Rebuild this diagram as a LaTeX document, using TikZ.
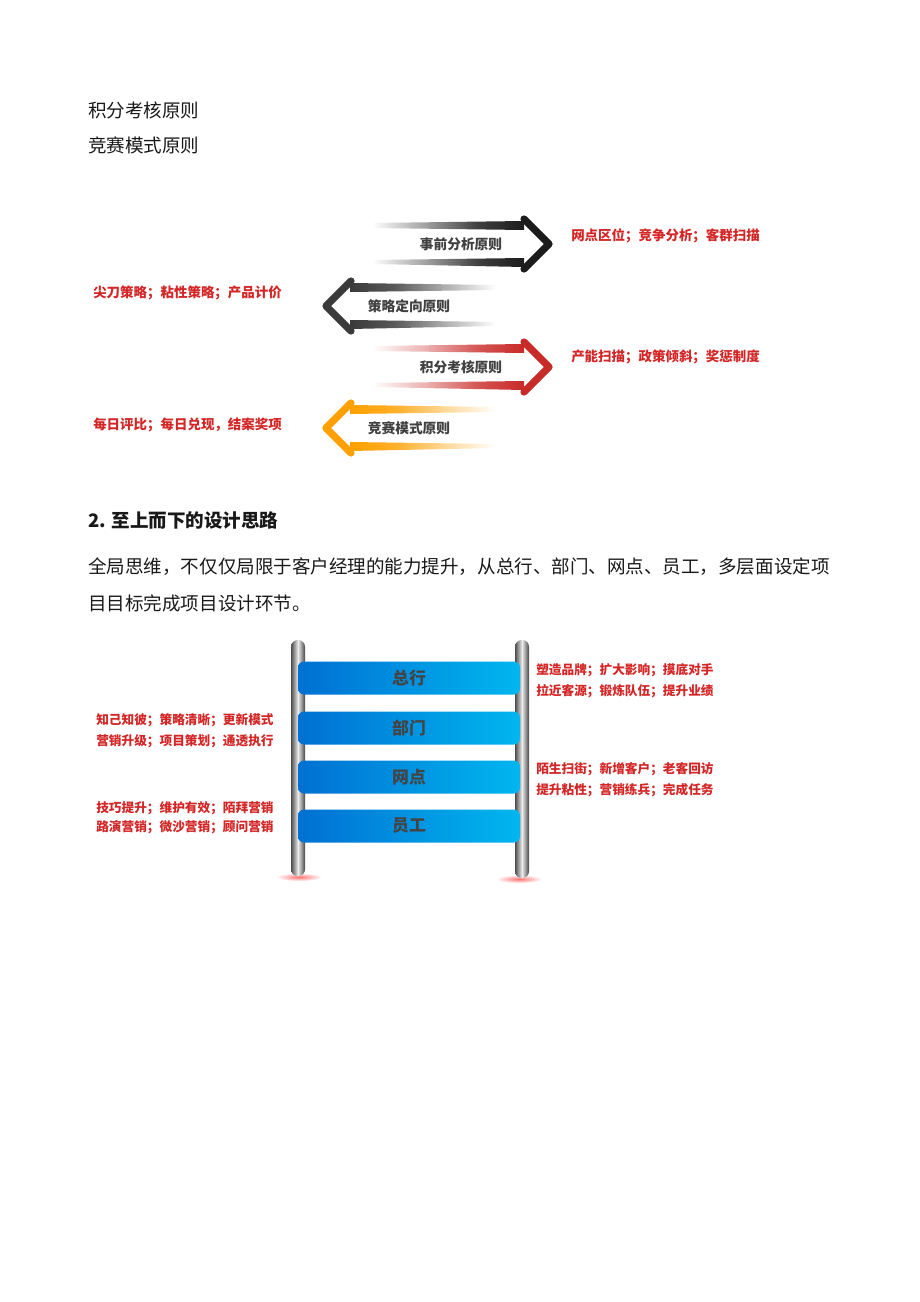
\documentclass[tikz,border=0pt]{standalone}
\usepackage{fontspec}
\setmainfont{Noto Sans CJK SC}
\definecolor{bodyblack}{RGB}{25,25,25}
\definecolor{lblred}{RGB}{212,38,38}
\definecolor{arrgray}{RGB}{64,64,64}
\definecolor{arrA}{RGB}{28,28,28}
\definecolor{arrB}{RGB}{58,58,58}
\definecolor{arrC}{RGB}{200,42,40}
\definecolor{arrD}{RGB}{255,160,0}
\definecolor{rungL}{RGB}{0,112,210}
\definecolor{rungR}{RGB}{0,182,240}
\definecolor{runggray}{RGB}{68,68,68}
\pgfdeclarehorizontalshading{fadeA}{100bp}{color(0bp)=(white); color(25bp)=(white); color(42bp)=(arrA!40); color(60bp)=(arrA!85); color(75bp)=(arrA); color(100bp)=(arrA)}
\pgfdeclarehorizontalshading{fadeB}{100bp}{color(0bp)=(arrB); color(25bp)=(arrB); color(40bp)=(arrB!85); color(58bp)=(arrB!40); color(75bp)=(white); color(100bp)=(white)}
\pgfdeclarehorizontalshading{fadeC}{100bp}{color(0bp)=(white); color(25bp)=(white); color(42bp)=(arrC!35); color(60bp)=(arrC!80); color(75bp)=(arrC); color(100bp)=(arrC)}
\pgfdeclarehorizontalshading{fadeD}{100bp}{color(0bp)=(arrD); color(25bp)=(arrD); color(40bp)=(arrD!85); color(58bp)=(arrD!40); color(75bp)=(white); color(100bp)=(white)}
\newcommand\myRarrow[2]{%
  \shade[shading=fade#2] (372,#1-21)--(524,#1-23)--(524,#1-14)--(372,#1-16)--cycle;
  \shade[shading=fade#2] (372,#1+16)--(524,#1+14)--(524,#1+23)--(372,#1+20)--cycle;
  \draw[line width=5.4pt,line join=round,line cap=round,color=arr#2] (524,#1-25)--(549,#1)--(524,#1+25);}
\newcommand\myLarrow[2]{%
  \shade[shading=fade#2] (350,#1-23)--(496,#1-21)--(496,#1-16)--(350,#1-14)--cycle;
  \shade[shading=fade#2] (350,#1+14)--(496,#1+16)--(496,#1+20)--(350,#1+23)--cycle;
  \draw[line width=5.4pt,line join=round,line cap=round,color=arr#2] (351,#1-25)--(326,#1)--(351,#1+25);}
\begin{document}
\begin{tikzpicture}[x=0.75pt,y=-0.75pt,
  body/.style={anchor=west,inner sep=0pt,font=\fontsize{13.9}{16}\selectfont,text=bodyblack},
  lbl/.style={anchor=west,inner sep=0pt,font=\bfseries\fontsize{10.1}{12}\selectfont,text=lblred},
  ldl/.style={anchor=west,inner sep=0pt,font=\bfseries\fontsize{9.5}{11}\selectfont,text=lblred},
  arrtxt/.style={inner sep=0pt,font=\bfseries\fontsize{10.3}{12}\selectfont,text=arrgray},
  rung/.style={rounded corners=4.5pt,minimum width=166.5pt,minimum height=24.75pt,inner sep=0pt,
    left color=rungL,right color=rungR,font=\bfseries\fontsize{12.6}{14}\selectfont,text=runggray},
  pole/.style={rounded corners=5pt,left color=gray!60!black,right color=gray!55!black,middle color=gray!15},
  glow/.style={inner color=red!55,outer color=white}]
\useasboundingbox (0,0) rectangle (920,1302);
\fill[white] (0,0) rectangle (920,1302);
% top lines
\node[body] (t1) at (88,110) {积分考核原则};
\node[body] (t2) at (88,145) {竞赛模式原则};
% arrows
\myRarrow{244}{A}
\myLarrow{306}{B}
\myRarrow{367}{C}
\myLarrow{428}{D}
\node[arrtxt] (a1) at (461,244) {事前分析原则};
\node[arrtxt] (a2) at (409,306) {策略定向原则};
\node[arrtxt] (a3) at (461,367) {积分考核原则};
\node[arrtxt] (a4) at (409,428) {竞赛模式原则};
\node[lbl] (l1) at (571,236) {网点区位；竞争分析；客群扫描};
\node[lbl] (l2) at (93,293) {尖刀策略；粘性策略；产品计价};
\node[lbl] (l3) at (571,357) {产能扫描；政策倾斜；奖惩制度};
\node[lbl] (l4) at (93,425) {每日评比；每日兑现，结案奖项};
% heading and paragraph
\node[body,font=\bfseries\fontsize{13.9}{16}\selectfont] (h) at (88,520) {2. 至上而下的设计思路};
\node[body] (p1) at (88,567) {全局思维，不仅仅局限于客户经理的能力提升，从总行、部门、网点、员工，多层面设定项};
\node[body] (p2) at (88,603) {目目标完成项目设计环节。};
% ladder
\shade[glow] (299,877) ellipse (23 and 4);
\shade[glow] (519,879) ellipse (23 and 4);
\shade[pole] (291,876) rectangle (305,640);
\shade[pole] (515,878) rectangle (529,640);
\node[rung] (r1) at (409,678) {总行};
\node[rung] (r2) at (409,728) {部门};
\node[rung] (r3) at (409,777) {网点};
\node[rung] (r4) at (409,826) {员工};
\node[ldl] (g1) at (536,670) {塑造品牌；扩大影响；摸底对手};
\node[ldl] (g2) at (536,691) {拉近客源；锻炼队伍；提升业绩};
\node[ldl] (g3) at (536,769) {陌生扫街；新增客户；老客回访};
\node[ldl] (g4) at (536,790) {提升粘性；营销练兵；完成任务};
\node[ldl] (k1) at (96,720) {知己知彼；策略清晰；更新模式};
\node[ldl] (k2) at (96,741) {营销升级；项目策划；通透执行};
\node[ldl] (k3) at (96,808) {技巧提升；维护有效；陌拜营销};
\node[ldl] (k4) at (96,827) {路演营销；微沙营销；顾问营销};
\end{tikzpicture}
\end{document}
